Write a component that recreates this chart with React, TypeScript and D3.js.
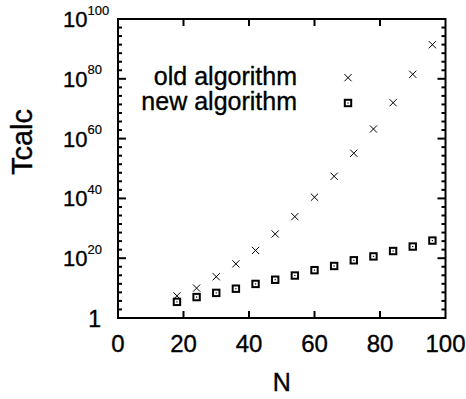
import React from "react";
import * as d3 from "d3";

const N = [18, 24, 30, 36, 42, 48, 54, 60, 66, 72, 78, 84, 90, 96];
const oldT = [2.5e7, 1e10, 6.3e13, 1.26e18, 4.0e22, 1.26e28, 7.9e33, 2.5e40, 2.5e47, 1.26e55, 1.6e63, 1e72, 3.2e81, 2.5e91];
const newT = [2.5e5, 1e7, 2.5e8, 6.3e9, 2.5e11, 6.3e12, 1.6e14, 1e16, 2.5e17, 2e19, 4e20, 2.5e22, 7.9e23, 7.9e25];
const xTicks = [0, 20, 40, 60, 80, 100];
const yTickExps = [0, 20, 40, 60, 80, 100];
const legendLabels = ["old algorithm", "new algorithm"];

const W = 466, H = 399;
const L = 118, R = 445.5, T = 19, B = 318;
const FONT = "'Liberation Sans', Arial, Helvetica, sans-serif";
const TS = { stroke: "#000", strokeWidth: 0.35 };

function Cross({ x, y }: { x: number; y: number }) {
  const s = 3.6;
  return (
    <g stroke="#000" strokeWidth={1}>
      <line x1={x - s} y1={y - s} x2={x + s} y2={y + s} />
      <line x1={x - s} y1={y + s} x2={x + s} y2={y - s} />
    </g>
  );
}

function Box({ x, y }: { x: number; y: number }) {
  return (
    <g>
      <rect x={x - 3.2} y={y - 3.2} width={6.4} height={6.4} fill="none" stroke="#000" strokeWidth={2} />
      <rect x={x - 0.6} y={y - 0.6} width={1.2} height={1.2} fill="#000" />
    </g>
  );
}

export default function App() {
  const x = d3.scaleLinear().domain([0, 100]).range([L, R]);
  const y = d3.scaleLog().domain([1, 1e100]).range([B, T]);

  const minor: number[] = [];
  for (let i = 0; i < yTickExps.length - 1; i++) {
    const e0 = yTickExps[i], e1 = yTickExps[i + 1];
    for (let k = 1; k < 7; k++) minor.push(y(Math.pow(10, e0 + ((e1 - e0) * k) / 7)));
  }

  return (
    <svg width={W} height={H} style={{ position: "absolute", left: 0, top: 0, background: "#fff" }} fontFamily={FONT}>
      <rect x={0} y={0} width={W} height={H} fill="#fff" />
      {/* ticks */}
      <g stroke="#000" strokeWidth={2}>
        {xTicks.slice(1, -1).map((t) => (
          <g key={"xt" + t}>
            <line x1={x(t)} y1={B} x2={x(t)} y2={B - 7} />
            <line x1={x(t)} y1={T} x2={x(t)} y2={T + 7} />
          </g>
        ))}
        {yTickExps.slice(1, -1).map((e) => (
          <g key={"yt" + e}>
            <line x1={L} y1={y(Math.pow(10, e))} x2={L + 8} y2={y(Math.pow(10, e))} />
            <line x1={R} y1={y(Math.pow(10, e))} x2={R - 8} y2={y(Math.pow(10, e))} />
          </g>
        ))}
        {minor.map((p, i) => (
          <g key={"m" + i}>
            <line x1={L} y1={p} x2={L + 4} y2={p} />
            <line x1={R} y1={p} x2={R - 4} y2={p} />
          </g>
        ))}
      </g>
      <rect x={L} y={T} width={R - L} height={B - T} fill="none" stroke="#000" strokeWidth={2} />

      {/* x tick labels */}
      {xTicks.map((t) => (
        <text key={"xl" + t} x={x(t)} y={352} textAnchor="middle" fontSize={24} fill="#000" {...TS}>
          {t}
        </text>
      ))}
      {/* y tick labels */}
      {yTickExps.map((e) =>
        e === 0 ? (
          <text key={"yl" + e} x={101} y={y(1) + 9} textAnchor="end" fontSize={23} fill="#000" {...TS}>1</text>
        ) : (
          <text key={"yl" + e} x={63} y={y(Math.pow(10, e)) + 8} fontSize={22} fill="#000" {...TS}>
            10
            <tspan dy={-12.5} fontSize={13} strokeWidth={0.2}>{e}</tspan>
          </text>
        )
      )}

      {/* axis labels */}
      <text x={(L + R) / 2} y={391} textAnchor="middle" fontSize={25} fill="#000" {...TS}>N</text>
      <text transform={`translate(32,${142}) rotate(-90)`} textAnchor="middle" fontSize={29} fill="#000" {...TS}>Tcalc</text>

      {/* data */}
      {N.map((n, i) => (
        <Cross key={"o" + i} x={x(n)} y={y(oldT[i])} />
      ))}
      {N.map((n, i) => (
        <Box key={"n" + i} x={x(n)} y={y(newT[i])} />
      ))}

      {/* legend */}
      <text x={297} y={85} textAnchor="end" fontSize={25} fill="#000" {...TS}>{legendLabels[0]}</text>
      <text x={297} y={110} textAnchor="end" fontSize={25} fill="#000" {...TS}>{legendLabels[1]}</text>
      <Cross x={348} y={77.7} />
      <Box x={348} y={103} />
    </svg>
  );
}
